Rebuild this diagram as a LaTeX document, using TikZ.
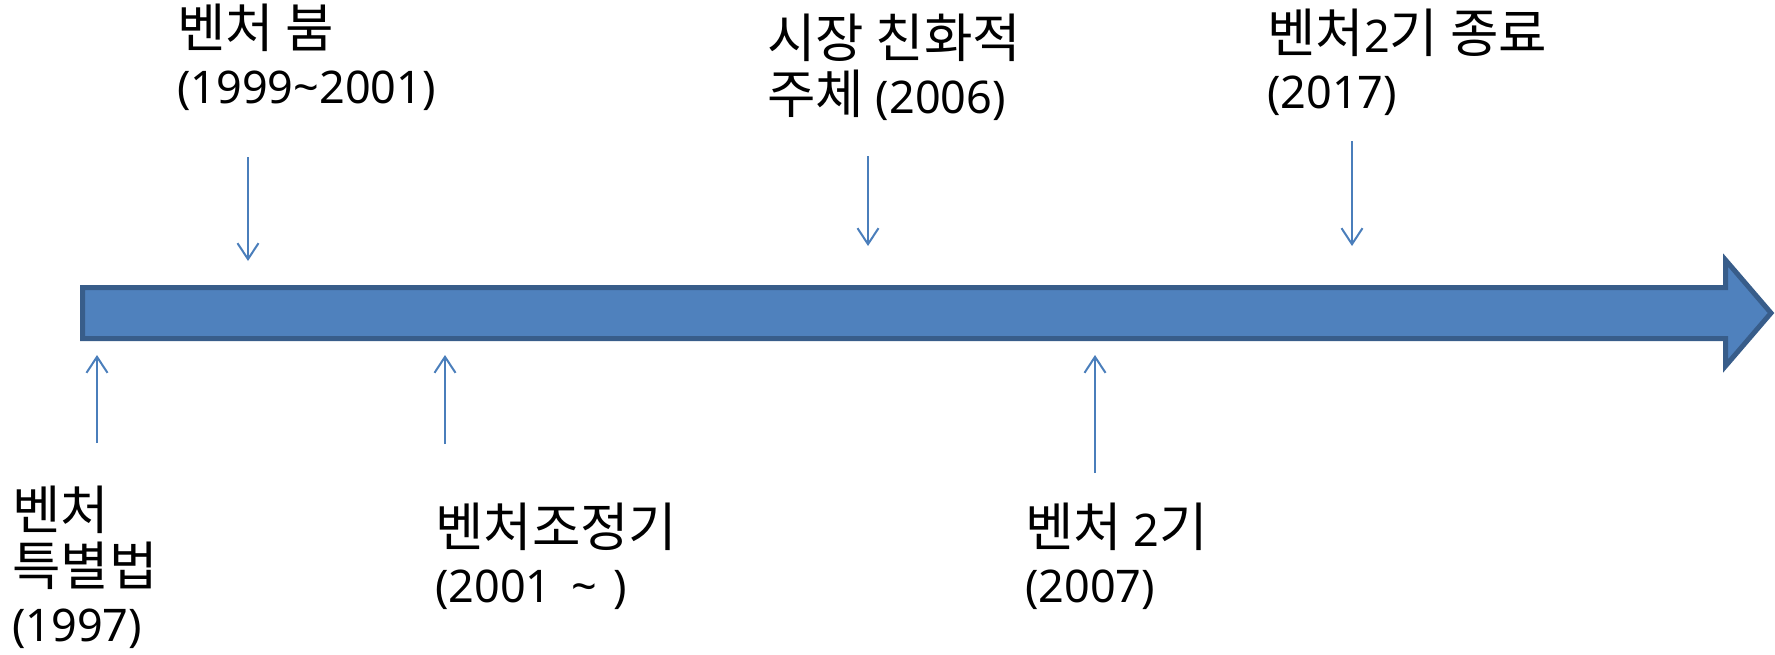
\documentclass[tikz,border=0pt]{standalone}
\usepackage{fontspec}
\setmainfont{Noto Sans}
\newfontfamily\hg{Noto Sans CJK KR}[Scale=1.17]
\usetikzlibrary{arrows.meta}
\definecolor{barfill}{HTML}{4F81BD}
\definecolor{barline}{HTML}{385D8A}
\definecolor{tick}{HTML}{4A7EBB}
\begin{document}
\begin{tikzpicture}[x=1pt,y=-1pt,
  lbl/.style={anchor=base west,inner sep=0pt,align=left,font=\fontsize{45}{56}\selectfont},
  pin/.style={draw=tick,line width=2pt,-{Straight Barb[length=16pt,width=21pt,line width=2pt]}}]
\useasboundingbox (0,0) rectangle (1775,654);
% timeline arrow
\draw[barline,fill=barfill,line width=5pt,line join=miter]
  (82.5,287.5) -- (1725.5,287.5) -- (1725.5,260) -- (1771,313) -- (1725.5,366)
  -- (1725.5,338.5) -- (82.5,338.5) -- cycle;
% labels (anchor = baseline of the last line)
\node[lbl] (l1) at (12,641) {{\hg 벤처}\\{\hg 특별법}\\(1997)};
\node[lbl] (l2) at (177,103) {{\hg 벤처 붐}\\(1999\textasciitilde2001)};
\node[lbl] (l3) at (435,602) {{\hg 벤처조정기}\\(2001\hspace{20pt}\textasciitilde\hspace{16pt})};
\node[lbl] (l4) at (767,113) {{\hg 시장 친화적}\\{\hg 주체} (2006)};
\node[lbl] (l5) at (1025,602) {{\hg 벤처} 2{\hg 기}\\(2007)};
\node[lbl] (l6) at (1267,108) {{\hg 벤처}2{\hg 기 종료}\\(2017)};
% pins
\coordinate (p1s) at (97,443);  \coordinate (p1e) at (97,355);
\coordinate (p2s) at (248,157); \coordinate (p2e) at (248,261);
\coordinate (p3s) at (445,444); \coordinate (p3e) at (445,355);
\coordinate (p4s) at (868,156); \coordinate (p4e) at (868,246);
\coordinate (p5s) at (1095,473); \coordinate (p5e) at (1095,355);
\coordinate (p6s) at (1352,141); \coordinate (p6e) at (1352,246);
\draw[pin] (p1s) -- (p1e);
\draw[pin] (p2s) -- (p2e);
\draw[pin] (p3s) -- (p3e);
\draw[pin] (p4s) -- (p4e);
\draw[pin] (p5s) -- (p5e);
\draw[pin] (p6s) -- (p6e);
\end{tikzpicture}
\end{document}
